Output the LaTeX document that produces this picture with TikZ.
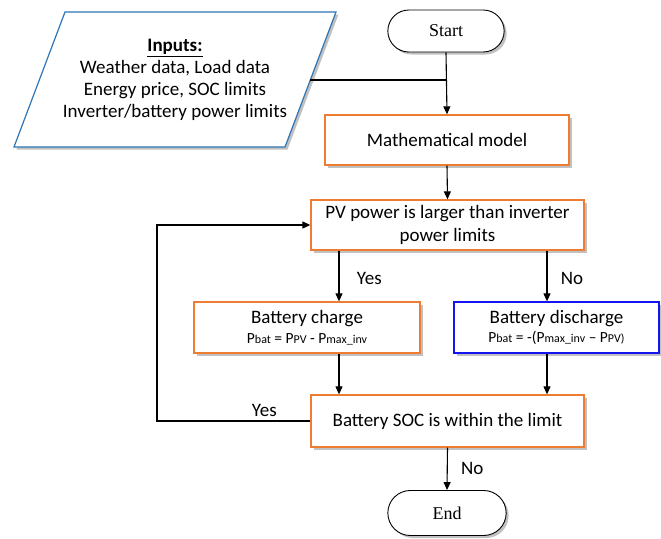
\documentclass[tikz,border=0pt]{standalone}
\usepackage{fontspec}
\setmainfont{Carlito}
\newfontfamily\serifed{Liberation Serif}
\usetikzlibrary{arrows.meta,shadows,shapes.misc}
\definecolor{boxorange}{RGB}{237,125,49}
\definecolor{parblue}{RGB}{46,117,182}
\definecolor{disblue}{RGB}{20,20,240}
\newcommand\lsub[1]{{\fontsize{12}{13}\selectfont #1}}
\begin{document}
\begin{tikzpicture}[x=1pt,y=-1pt,
  every node/.style={font=\fontsize{19}{22.5}\selectfont},
  shad/.style={drop shadow={shadow xshift=2.5pt,shadow yshift=-2.5pt,opacity=0.35,fill=black!70}},
  obox/.style={draw=boxorange,line width=1.3pt,fill=white,shad,minimum height=50pt,align=center,inner sep=2pt},
  term/.style={draw=black,line width=0.9pt,fill=white,rounded rectangle,shad,font=\serifed\fontsize{18}{20}\selectfont},
  arr/.style={-{Triangle[length=8pt,width=7pt]},line width=1.1pt},
  ln/.style={line width=1.1pt}]
\useasboundingbox (0,0) rectangle (661,538);
% inputs parallelogram
\path[shad,draw=parblue,line width=1.2pt,fill=white] (65,12) -- (336,12) -- (285,147) -- (14,147) -- cycle;
\node[align=center,font=\fontsize{19}{22}\selectfont] (inputs) at (175,80) {\underline{\textbf{Inputs:}}\\Weather data, Load data\\Energy price, SOC limits\\Inverter/battery power limits};
\coordinate (inR) at (310,80);
% terminals
\node[term,minimum width=123pt,minimum height=42pt] (start) at (446,31) {Start};
\node[term,minimum width=125pt,minimum height=45pt] (end) at (447,513) {End};
% boxes
\node[obox,minimum width=244pt] (math) at (447,140) {Mathematical model};
\node[obox,minimum width=273pt] (pv) at (447.5,225) {PV power is larger than inverter\\power limits};
\node[obox,minimum width=226pt,minimum height=51pt] (charge) at (307,327.5) {Battery charge\\[-3pt]{\fontsize{15.5}{17}\selectfont P\lsub{bat} = P\lsub{PV} - P\lsub{max\_inv}}};
\node[obox,draw=disblue,minimum width=205pt,minimum height=51pt] (dis) at (556.5,327.5) {Battery discharge\\[-3pt]{\fontsize{15.5}{17}\selectfont P\lsub{bat} = -(P\lsub{max\_inv} -- P\lsub{PV)}}};
\node[obox,minimum width=273pt,minimum height=52pt] (soc) at (447.5,421) {Battery SOC is within the limit};
% connectors
\draw[ln] (inR) -- (start.south |- inR);
\draw[arr] (start.south) -- (math.north);
\draw[arr] (math.south) -- (pv.north);
\draw[arr] (pv.south -| 339,0) -- node[right=14pt,pos=0.55] (yes1) {Yes} (charge.north -| 339,0);
\draw[arr] (pv.south -| 547,0) -- node[right=10pt,pos=0.55] (no1) {No} (dis.north -| 547,0);
\draw[arr] (charge.south -| 339,0) -- (soc.north -| 339,0);
\draw[arr] (dis.south -| 547,0) -- (soc.north -| 547,0);
\draw[arr] (soc.west) -- node[above,pos=0.3] (yes2) {Yes} (157,421) -- (157,225) -- (pv.west);
\draw[arr] (soc.south) -- node[right=10pt] (no2) {No} (end.north);
\end{tikzpicture}
\end{document}
